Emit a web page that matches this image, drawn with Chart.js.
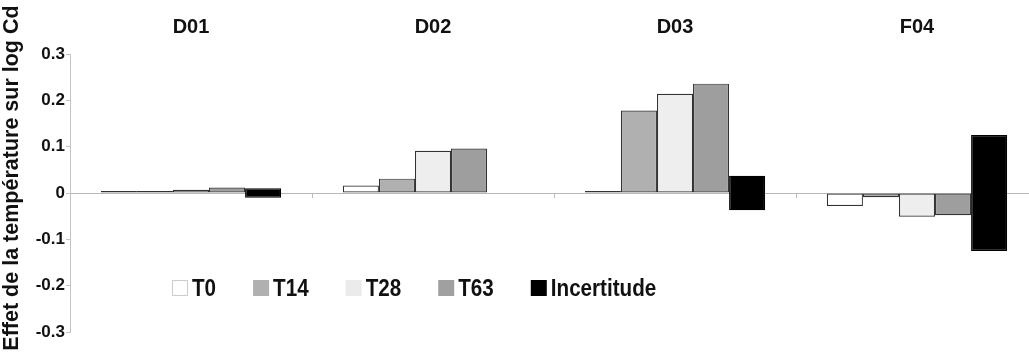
<!DOCTYPE html>
<html>
<head>
<meta charset="utf-8">
<script src="https://cdn.jsdelivr.net/npm/chart.js@4/dist/chart.umd.min.js"></script>
<style>
  html, body { margin: 0; padding: 0; background: #fff; overflow: hidden; }
  #wrap { width: 1040px; height: 354px; }
</style>
</head>
<body>
<div id="wrap"><canvas id="graph" width="1040" height="354"></canvas></div>
<script>
// ===== Données =====
const categories = ["D01", "D02", "D03", "F04"];
const serieT0 = [0.002, 0.016, 0.001, -0.028];
const serieT14 = [0.003, 0.031, 0.178, -0.009];
const serieT28 = [0.007, 0.091, 0.214, -0.051];
const serieT63 = [0.012, 0.096, 0.236, -0.048];
const incertitude = [0.010, null, 0.037, 0.125]; // demi-largeur (+/-)
const titreY = "Effet de la température sur log Cd";

const FONT = "'Liberation Sans', Arial, sans-serif";
const ETROIT = 0.86; // compression horizontale du texte de légende

// ===== Plugins =====
// titre de l'axe Y (décalé vers le haut comme dans l'original)
const titreYPlugin = {
  id: "titreY",
  afterDraw(chart) {
    const ctx = chart.ctx;
    ctx.save();
    ctx.translate(12, 178);
    ctx.rotate(-Math.PI / 2);
    ctx.font = "bold 21.5px " + FONT;
    ctx.fillStyle = "#111";
    ctx.textAlign = "center";
    ctx.textBaseline = "middle";
    ctx.fillText(titreY, 0, 0);
    ctx.restore();
  }
};

// petits traits de séparation sur la ligne zéro
const separateurs = {
  id: "separateurs",
  afterDatasetsDraw(chart) {
    const { ctx, scales } = chart;
    const y0 = scales.y.getPixelForValue(0);
    ctx.save();
    ctx.strokeStyle = "#bbb";
    ctx.lineWidth = 1;
    for (let i = 1; i < categories.length; i++) {
      const x = Math.round((scales.x.getPixelForValue(i - 1) + scales.x.getPixelForValue(i)) / 2) + 0.5;
      ctx.beginPath();
      ctx.moveTo(x, y0);
      ctx.lineTo(x, y0 + 5);
      ctx.stroke();
    }
    ctx.restore();
  }
};

// légende dessinée dans la zone du graphique
const legendeInterne = {
  id: "legendeInterne",
  afterDraw(chart) {
    const ctx = chart.ctx;
    ctx.save();
    ctx.font = "bold 24px " + FONT;
    ctx.textBaseline = "middle";
    ctx.textAlign = "left";
    let x = 172;
    const yc = 288;
    chart.data.datasets.forEach((ds) => {
      ctx.fillStyle = ds.legendColor;
      ctx.fillRect(x, yc - 8, 16, 16);
      if (ds.legendColor === "#ffffff") {
        ctx.strokeStyle = "#ccc";
        ctx.strokeRect(x + 0.5, yc - 7.5, 15, 15);
      }
      ctx.fillStyle = "#111";
      ctx.save();
      ctx.translate(x + 20, yc + 1);
      ctx.scale(ETROIT, 1);
      ctx.fillText(ds.label, 0, 0);
      ctx.restore();
      x += 20 + ctx.measureText(ds.label).width * ETROIT + 37;
    });
    ctx.restore();
  }
};

// ===== Graphique =====
const ctx = document.getElementById("graph").getContext("2d");
const commun = {
  borderColor: "#333333",
  borderWidth: 1.2,
  borderSkipped: false,
  minBarLength: 2,
  barPercentage: 1.0,
  categoryPercentage: 0.745
};

new Chart(ctx, {
  type: "bar",
  data: {
    labels: categories,
    datasets: [
      { ...commun, label: "T0", data: serieT0, backgroundColor: "#ffffff", legendColor: "#ffffff" },
      { ...commun, label: "T14", data: serieT14, backgroundColor: "#b0b0b0", legendColor: "#b0b0b0" },
      { ...commun, label: "T28", data: serieT28, backgroundColor: "#eeeeee", legendColor: "#ebebeb" },
      { ...commun, label: "T63", data: serieT63, backgroundColor: "#9e9e9e", legendColor: "#a0a0a0" },
      {
        ...commun,
        label: "Incertitude",
        data: incertitude.map((u) => (u == null ? null : [-u, u])),
        backgroundColor: "#000000",
        borderColor: "#000000",
        legendColor: "#000000"
      }
    ]
  },
  options: {
    responsive: false,
    animation: false,
    layout: { padding: { top: 0, right: 2, bottom: 22, left: 0 } },
    plugins: {
      legend: { display: false },
      tooltip: { enabled: false }
    },
    scales: {
      x: {
        position: "top",
        grid: { display: false, drawTicks: false },
        border: { display: false },
        ticks: {
          padding: 15,
          color: "#111",
          font: { family: FONT, size: 20, weight: "bold" }
        }
      },
      y: {
        min: -0.3,
        max: 0.3,
        afterFit: (scale) => { scale.width = 70; },
        border: { color: "#c4c4c4", width: 1 },
        grid: {
          color: (c) => (c.tick && c.tick.value === 0 ? "#b8b8b8" : "rgba(0,0,0,0)"),
          tickColor: "#c4c4c4",
          tickLength: 4
        },
        ticks: {
          stepSize: 0.1,
          padding: 1,
          color: "#111",
          font: { family: FONT, size: 17, weight: "bold" },
          callback: (v) => String(Number(Number(v).toFixed(1)))
        }
      }
    }
  },
  plugins: [separateurs, legendeInterne, titreYPlugin]
});
</script>
</body>
</html>
